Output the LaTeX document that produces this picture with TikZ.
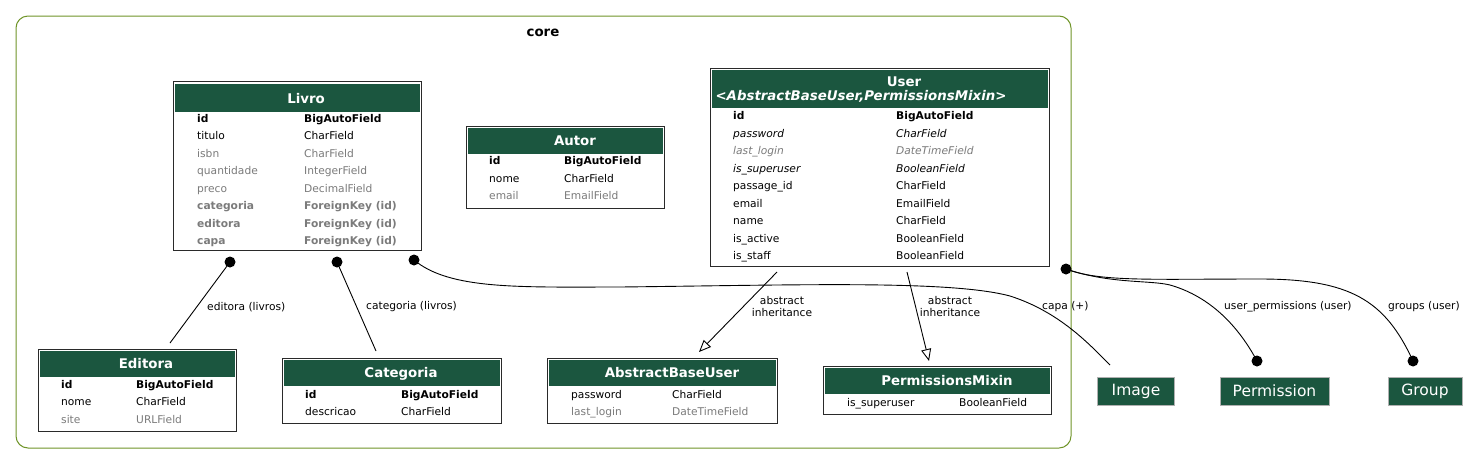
\documentclass[tikz,border=0pt]{standalone}
\usepackage{fontspec}
\setmainfont{DejaVu Sans}
\usetikzlibrary{arrows.meta}
\definecolor{hdrgreen}{HTML}{1B563F}
\definecolor{fgray}{HTML}{7B7B7B}
\definecolor{clgreen}{HTML}{6F9428}
\definecolor{extborder}{HTML}{B0B0B0}
\definecolor{boxline}{HTML}{2A2A2A}
\newcommand{\fsz}{\fontsize{10.67}{12}\selectfont}
\newcommand{\hsz}{\fontsize{13.33}{15}\selectfont\bfseries}
\newcommand{\frow}[7]{%
  \node[fld,#5] (#1n) at (#3,#2) {#6};
  \node[fld,#5] (#1t) at (#4,#2) {#7};}
\tikzset{
  tbox/.style={draw=boxline, line width=1pt, fill=white, inner sep=0pt},
  thead/.style={fill=hdrgreen, inner sep=0pt},
  ttitle/.style={text=white, font=\hsz, inner sep=0pt, anchor=base},
  fld/.style={anchor=base west, inner sep=0pt, font=\fsz},
  pk/.style={font=\fsz\bfseries},
  gry/.style={text=fgray},
  fk/.style={text=fgray, font=\fsz\bfseries},
  itl/.style={font=\fsz\itshape},
  itg/.style={text=fgray, font=\fsz\itshape},
  pln/.style={},
  dotn/.style={circle, fill=black, inner sep=0pt, minimum size=11pt},
  rel/.style={line width=0.9pt},
  inh/.style={line width=0.9pt, -{Triangle[open, length=12pt, width=10pt]}},
  elabel/.style={font=\fsz, inner sep=0pt, anchor=west},
  ilabel/.style={font=\fsz, inner sep=0pt, align=center},
  ext/.style={fill=hdrgreen, draw=extborder, line width=0.6pt, text=white,
    font=\fontsize{15.5}{17}\selectfont, inner sep=0pt, minimum height=28pt},
  cluster/.style={draw=clgreen, line width=1pt, rounded corners=12pt},
}
\begin{document}
\begin{tikzpicture}[x=1pt, y=-1pt]
\useasboundingbox (0,0) rectangle (1479,464);
\fill[white] (0,0) rectangle (1479,464);

% cluster
\draw[cluster] (16,16) rectangle (1071,448);
\node[font=\hsz, inner sep=0pt] (corelbl) at (543,33) {core};

% ---------- Livro
\node[tbox, minimum width=248pt, minimum height=169pt] (livro) at (297,166) {};
\node[thead, minimum width=245pt, minimum height=28pt] (livroh) at (297,98) {};
\node[ttitle] (livrot) at (306,103) {Livro};
\frow{livro1}{122}{197}{304}{pk}{id}{BigAutoField}
\frow{livro2}{139.5}{197}{304}{pln}{titulo}{CharField}
\frow{livro3}{157}{197}{304}{gry}{isbn}{CharField}
\frow{livro4}{174.5}{197}{304}{gry}{quantidade}{IntegerField}
\frow{livro5}{192}{197}{304}{gry}{preco}{DecimalField}
\frow{livro6}{209.5}{197}{304}{fk}{categoria}{ForeignKey (id)}
\frow{livro7}{227}{197}{304}{fk}{editora}{ForeignKey (id)}
\frow{livro8}{244.5}{197}{304}{fk}{capa}{ForeignKey (id)}

% ---------- Autor
\node[tbox, minimum width=198pt, minimum height=82pt] (autor) at (565,167) {};
\node[thead, minimum width=195pt, minimum height=26pt] (autorh) at (565,141) {};
\node[ttitle] (autort) at (575,145.5) {Autor};
\frow{autor1}{164.5}{489}{564}{pk}{id}{BigAutoField}
\frow{autor2}{182}{489}{564}{pln}{nome}{CharField}
\frow{autor3}{199.5}{489}{564}{gry}{email}{EmailField}

% ---------- User
\node[tbox, minimum width=339pt, minimum height=198pt] (user) at (879.5,167) {};
\node[thead, minimum width=336pt, minimum height=38pt] (userh) at (879.5,89) {};
\node[ttitle] (usert1) at (904,86) {User};
\node[ttitle, font=\hsz\itshape] (usert2) at (861,100) {<AbstractBaseUser,PermissionsMixin>};
\frow{user1}{119.5}{733}{896}{pk}{id}{BigAutoField}
\frow{user2}{137}{733}{896}{itl}{password}{CharField}
\frow{user3}{154.5}{733}{896}{itg}{last\_login}{DateTimeField}
\frow{user4}{172}{733}{896}{itl}{is\_superuser}{BooleanField}
\frow{user5}{189.5}{733}{896}{pln}{passage\_id}{CharField}
\frow{user6}{207}{733}{896}{pln}{email}{EmailField}
\frow{user7}{224.5}{733}{896}{pln}{name}{CharField}
\frow{user8}{242}{733}{896}{pln}{is\_active}{BooleanField}
\frow{user9}{259.5}{733}{896}{pln}{is\_staff}{BooleanField}

% ---------- Editora
\node[tbox, minimum width=198pt, minimum height=82pt] (editora) at (137,390) {};
\node[thead, minimum width=195pt, minimum height=26pt] (editorah) at (137,364) {};
\node[ttitle] (editorat) at (146,368.5) {Editora};
\frow{editora1}{388}{61}{136}{pk}{id}{BigAutoField}
\frow{editora2}{405.5}{61}{136}{pln}{nome}{CharField}
\frow{editora3}{423}{61}{136}{gry}{site}{URLField}

% ---------- Categoria
\node[tbox, minimum width=219pt, minimum height=65pt] (categoria) at (391.5,390.5) {};
\node[thead, minimum width=216pt, minimum height=26pt] (categoriah) at (391.5,373) {};
\node[ttitle] (categoriat) at (401,377.5) {Categoria};
\frow{categoria1}{398}{305}{401}{pk}{id}{BigAutoField}
\frow{categoria2}{415.5}{305}{401}{pln}{descricao}{CharField}

% ---------- AbstractBaseUser
\node[tbox, minimum width=230pt, minimum height=65pt] (abu) at (662,390.5) {};
\node[thead, minimum width=227pt, minimum height=26pt] (abuh) at (662,373) {};
\node[ttitle] (abut) at (672,377.5) {AbstractBaseUser};
\frow{abu1}{398}{571}{672}{pln}{password}{CharField}
\frow{abu2}{415.5}{571}{672}{gry}{last\_login}{DateTimeField}

% ---------- PermissionsMixin
\node[tbox, minimum width=228pt, minimum height=48pt] (pm) at (937,390) {};
\node[thead, minimum width=225pt, minimum height=26pt] (pmh) at (937,381) {};
\node[ttitle] (pmt) at (947,385.5) {PermissionsMixin};
\frow{pm1}{406}{847}{959}{pln}{is\_superuser}{BooleanField}

% ---------- external models
\node[ext, minimum width=77pt] (image) at (1136,391) {Image};
\node[ext, minimum width=109pt] (permission) at (1274.5,391) {Permission};
\node[ext, minimum width=74pt] (group) at (1425,391) {Group};

% ---------- relations
\node[dotn] (dEd) at (230,262) {};
\coordinate (edEnd) at (170,343);
\draw[rel] (dEd.center) -- (edEnd);
\node[elabel] (lEd) at (207,307) {editora (livros)};

\node[dotn] (dCat) at (337,262) {};
\coordinate (catEnd) at (376,351);
\draw[rel] (dCat.center) -- (catEnd);
\node[elabel] (lCat) at (366,307) {categoria (livros)};

\node[dotn] (dCapa) at (414,260) {};
\coordinate (capaEnd) at (1110,365);
\draw[rel] (dCapa.center) .. controls (450,290) and (520,287) .. (620,287)
  .. controls (800,285) and (950,280) .. (1010,296)
  .. controls (1060,312) and (1090,345) .. (capaEnd);
\node[elabel] (lCapa) at (1042,307) {capa (+)};

\coordinate (uA) at (777,272);
\coordinate (abuEnd) at (699,352);
\draw[inh] (uA) -- (abuEnd);
\node[ilabel] (lAbu) at (782,307) {abstract\\inheritance};

\coordinate (uB) at (907,272);
\coordinate (pmEnd) at (929,361);
\draw[inh] (uB) -- (pmEnd);
\node[ilabel] (lPm) at (950,307) {abstract\\inheritance};

\node[dotn] (dUser) at (1066,269) {};
\node[dotn] (dPerm) at (1257,361) {};
\node[dotn] (dGroup) at (1413,361) {};
\draw[rel] (dUser.center) .. controls (1110,284) and (1150,280) .. (1170,285)
  .. controls (1205,295) and (1235,320) .. (dPerm.center);
\draw[rel] (dUser.center) .. controls (1100,282) and (1150,279) .. (1260,279)
  .. controls (1350,279) and (1385,300) .. (dGroup.center);
\node[elabel] (lPerm) at (1224,307) {user\_permissions (user)};
\node[elabel] (lGroup) at (1388,307) {groups (user)};
\end{tikzpicture}
\end{document}
